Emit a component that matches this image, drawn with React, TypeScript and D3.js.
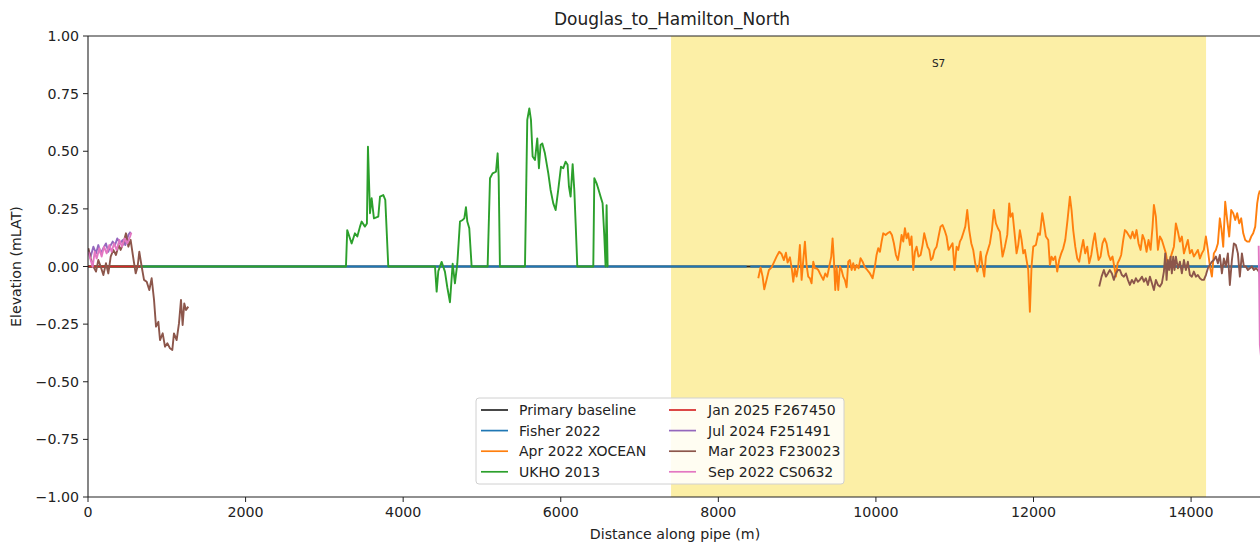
import React from "react";
import * as d3 from "d3";

type Pt = [number, number | null];

const TITLE = "Douglas_to_Hamilton_North";
const X_LABEL = "Distance along pipe (m)";
const Y_LABEL = "Elevation (mLAT)";
const X_TICKS = [0, 2000, 4000, 6000, 8000, 10000, 12000, 14000];
const Y_TICKS = [-1, -0.75, -0.5, -0.25, 0, 0.25, 0.5, 0.75, 1];
const X_DOMAIN: [number, number] = [0, 14900];
const Y_DOMAIN: [number, number] = [-1, 1];

const SPAN_START = 7400;
const SPAN_END = 14190;
const SPAN_LABEL = "S7";
const SPAN_LABEL_Y = 0.88;

const SERIES_NAMES = [
  "Primary baseline",
  "Fisher 2022",
  "Apr 2022 XOCEAN",
  "UKHO 2013",
  "Jan 2025 F267450",
  "Jul 2024 F251491",
  "Mar 2023 F230023",
  "Sep 2022 CS0632",
];
const SERIES_COLORS = [
  "#262626",
  "#1f77b4",
  "#ff7f0e",
  "#2ca02c",
  "#d62728",
  "#9467bd",
  "#8c564b",
  "#e377c2",
];

const primaryBaseline: Pt[] = [
  [0, 0],
  [14900, 0],
];

const fisher2022: Pt[] = [
  [0, 0],
  [8360, 0],
  [8380, null],
  [8405, 0],
  [14900, 0],
];

const apr2022Xocean: Pt[] = [
  [8507, -0.051], [8536, -0.004], [8562, -0.044], [8583, -0.099], [8612, -0.058],
  [8642, -0.015], [8676, -0.004], [8710, 0.021], [8739, 0.043], [8773, 0.064],
  [8803, 0.054], [8832, 0.028], [8858, 0.06], [8879, 0.017], [8909, 0.04],
  [8934, -0.015], [8951, -0.066], [8972, -0.008], [8993, -0.044], [9014, 0.0],
  [9035, 0.093], [9057, -0.058], [9078, 0.028], [9099, 0.108], [9120, 0.007],
  [9141, -0.044], [9162, -0.051], [9183, -0.073], [9205, 0.021], [9226, -0.008],
  [9247, -0.008], [9268, -0.015], [9289, -0.03], [9310, -0.044], [9332, -0.058],
  [9357, -0.03], [9382, -0.044], [9408, 0.0], [9433, 0.043], [9450, 0.122],
  [9467, 0.028], [9484, -0.102], [9501, 0.0], [9522, -0.102], [9543, 0.0],
  [9564, -0.015], [9585, -0.044], [9606, -0.058], [9628, -0.09], [9649, 0.021],
  [9670, 0.028], [9691, -0.015], [9712, 0.014], [9733, -0.015], [9755, 0.007],
  [9780, -0.008], [9805, 0.036], [9831, 0.021], [9860, -0.004], [9890, -0.015],
  [9924, -0.03], [9958, -0.051], [9987, 0.0], [10008, 0.05], [10029, 0.079],
  [10051, 0.064], [10072, 0.108], [10093, 0.144], [10123, 0.137], [10148, 0.144],
  [10178, 0.151], [10203, 0.137], [10228, 0.101], [10254, 0.05], [10279, 0.028],
  [10304, 0.079], [10326, 0.137], [10347, 0.108], [10368, 0.166], [10389, 0.122],
  [10410, 0.144], [10431, 0.093], [10452, 0.13], [10474, -0.015], [10495, 0.064],
  [10516, 0.086], [10541, 0.043], [10567, 0.05], [10592, 0.093], [10613, 0.144],
  [10634, 0.115], [10655, 0.086], [10677, 0.072], [10698, 0.028], [10719, 0.036],
  [10744, 0.072], [10770, 0.086], [10795, 0.13], [10820, 0.173], [10846, 0.18],
  [10871, 0.158], [10897, 0.13], [10922, 0.072], [10947, 0.086], [10973, 0.101],
  [10998, -0.015], [11024, 0.086], [11045, 0.072], [11066, 0.108], [11087, 0.122],
  [11108, 0.144], [11134, 0.173], [11159, 0.245], [11184, 0.158], [11210, 0.101],
  [11235, 0.072], [11260, 0.014], [11286, -0.022], [11311, 0.007], [11328, 0.064],
  [11353, 0.0], [11375, -0.044], [11396, 0.043], [11421, 0.072], [11447, 0.101],
  [11472, 0.158], [11497, 0.245], [11523, 0.187], [11548, 0.166], [11573, 0.151],
  [11607, 0.043], [11637, 0.086], [11667, 0.137], [11692, 0.274], [11709, 0.216],
  [11734, 0.231], [11764, 0.13], [11785, 0.057], [11806, 0.093], [11827, 0.158],
  [11849, 0.115], [11870, 0.057], [11891, 0.072], [11912, 0.028], [11933, -0.015],
  [11954, -0.196], [11975, 0.0], [11997, 0.086], [12030, 0.093], [12060, 0.144],
  [12081, 0.137], [12111, 0.231], [12132, 0.187], [12157, 0.13], [12187, 0.115],
  [12208, 0.007], [12229, 0.043], [12250, 0.028], [12276, 0.043], [12301, -0.022],
  [12326, 0.028], [12352, 0.057], [12377, 0.079], [12403, 0.115], [12432, 0.202],
  [12462, 0.303], [12483, 0.245], [12504, 0.158], [12530, 0.086], [12555, 0.035],
  [12580, 0.021], [12606, 0.072], [12631, 0.115], [12656, 0.057], [12682, 0.086],
  [12707, 0.014], [12733, 0.05], [12758, 0.108], [12779, 0.144], [12800, 0.086],
  [12826, 0.028], [12851, 0.043], [12876, 0.1], [12902, 0.122], [12927, 0.1],
  [12953, 0.05], [12978, 0.028], [13003, 0.043], [13025, 0.0], [13046, -0.044],
  [13067, 0.014], [13088, 0.028], [13113, 0.05], [13139, 0.115], [13160, 0.158],
  [13181, 0.151], [13206, 0.137], [13232, 0.122], [13257, 0.151], [13283, 0.122],
  [13308, 0.158], [13333, 0.1], [13359, 0.072], [13384, 0.137], [13409, 0.115],
  [13435, 0.064], [13460, 0.115], [13486, 0.072], [13511, 0.173], [13528, 0.267],
  [13553, 0.216], [13579, 0.072], [13604, 0.13], [13629, 0.115], [13655, 0.086],
  [13680, 0.057], [13706, 0.0], [13731, 0.028], [13756, 0.057], [13782, 0.086],
  [13807, 0.187], [13833, 0.151], [13858, 0.108], [13883, 0.13], [13909, 0.057],
  [13934, 0.086], [13959, 0.115], [13985, 0.057], [14010, 0.072], [14035, 0.043],
  [14061, 0.057], [14086, 0.072], [14112, 0.035], [14137, 0.057], [14162, 0.072],
  [14188, 0.13], [14213, 0.072], [14239, 0.0], [14264, -0.044], [14289, 0.057],
  [14315, 0.072], [14340, 0.1], [14365, 0.209], [14387, 0.158], [14408, 0.086],
  [14433, 0.281], [14458, 0.202], [14484, 0.13], [14509, 0.245], [14535, 0.231],
  [14560, 0.202], [14585, 0.231], [14611, 0.187], [14636, 0.209], [14662, 0.144],
  [14687, 0.115], [14712, 0.108], [14738, 0.108], [14763, 0.13], [14788, 0.144],
  [14814, 0.173], [14839, 0.274], [14856, 0.31], [14873, 0.33],
];

const ukho2013: Pt[] = [
  [0, 0], [3274, 0], [3290, 0.158], [3346, 0.1], [3388, 0.144], [3418, 0.13],
  [3452, 0.173], [3473, 0.195], [3515, 0.173], [3540, 0.187], [3553, 0.52],
  [3579, 0.231], [3600, 0.296], [3629, 0.209], [3684, 0.216], [3706, 0.303],
  [3748, 0.31], [3773, 0.289], [3811, 0], [4404, 0], [4425, -0.109], [4446, -0.02],
  [4488, 0.02], [4530, -0.022], [4560, -0.09], [4594, -0.155], [4628, 0.012],
  [4657, -0.073], [4687, 0.012], [4721, 0.195], [4755, 0.202], [4776, 0.209],
  [4797, 0.257], [4814, 0.195], [4839, 0.166], [4869, 0], [5072, 0], [5102, 0.383],
  [5135, 0.404], [5178, 0.411], [5199, 0.491], [5212, 0.39], [5228, 0], [5546, 0],
  [5575, 0.636], [5601, 0.686], [5622, 0.636], [5643, 0.477], [5673, 0.462],
  [5702, 0.556], [5723, 0.426], [5744, 0.527], [5766, 0.534], [5799, 0.491],
  [5842, 0.404], [5871, 0.332], [5905, 0.274], [5935, 0.245], [5968, 0.332],
  [6003, 0.433], [6032, 0.426], [6062, 0.455], [6087, 0.441], [6104, 0.347],
  [6125, 0.303], [6151, 0.444], [6172, 0.332], [6189, 0.187], [6210, 0], [6413, 0],
  [6426, 0.383], [6455, 0.361], [6481, 0.332], [6506, 0.303], [6531, 0.274],
  [6553, 0.13], [6569, 0], [6582, 0.266], [6595, 0], [6600, 0],
];

const jan2025: Pt[] = [
  [0, 0],
  [660, 0],
];

const jul2024: Pt[] = [
  [4, 0.072], [34, 0.043], [68, 0.086], [102, 0.057], [131, 0.093], [161, 0.057],
  [195, 0.079], [228, 0.1], [258, 0.064], [279, 0.086], [313, 0.108], [343, 0.093],
  [372, 0.122], [406, 0.1], [440, 0.115], [474, 0.093], [512, 0.137], [541, 0.151],
];

const mar2023: Pt[] = [
  [4, 0.079], [34, 0.036], [68, 0.0], [102, -0.022], [131, 0.028], [161, 0.0],
  [195, -0.037], [228, 0.014], [258, -0.03], [288, 0.043], [322, 0.072], [355, 0.05],
  [389, 0.093], [414, 0.072], [448, 0.101], [482, 0.144], [512, 0.086], [541, 0.115],
  [575, 0.036], [605, -0.03], [630, 0.0], [651, 0.064], [681, 0.0], [711, -0.058],
  [745, -0.066], [778, -0.102], [808, -0.051], [838, -0.145], [863, -0.261],
  [893, -0.24], [914, -0.319], [948, -0.29], [977, -0.348], [1007, -0.333],
  [1041, -0.355], [1070, -0.362], [1091, -0.29], [1125, -0.319], [1155, -0.246],
  [1180, -0.145], [1201, -0.254], [1222, -0.16], [1244, -0.189], [1273, -0.174],
  [1290, null],
  [12834, -0.087], [12864, -0.044], [12893, -0.015], [12919, -0.044], [12944, -0.03],
  [12969, -0.015], [12995, -0.03], [13020, -0.058], [13046, -0.03], [13071, -0.015],
  [13096, -0.015], [13122, -0.037], [13147, -0.044], [13173, -0.03], [13198, -0.058],
  [13223, -0.08], [13249, -0.058], [13274, -0.073], [13299, -0.051], [13325, -0.066],
  [13350, -0.058], [13376, -0.044], [13401, -0.066], [13426, -0.051], [13452, -0.08],
  [13477, -0.044], [13503, -0.073], [13528, -0.102], [13553, -0.058], [13579, -0.08],
  [13604, -0.087], [13629, -0.073], [13655, -0.022], [13672, 0.057], [13689, -0.058],
  [13706, 0.028], [13722, -0.015], [13739, 0.043], [13756, -0.03], [13773, 0.043],
  [13790, -0.015], [13807, 0.043], [13833, -0.008], [13858, 0.021], [13883, -0.03],
  [13909, 0.028], [13934, -0.015], [13959, 0.021], [13985, -0.037], [14010, -0.044],
  [14035, -0.022], [14061, -0.044], [14086, -0.037], [14112, -0.051], [14137, -0.058],
  [14162, -0.058], [14188, -0.037], [14213, -0.008], [14239, 0.007], [14264, 0.021],
  [14289, 0.028], [14315, 0.043], [14340, 0.014], [14365, 0.05], [14391, -0.03],
  [14416, 0.035], [14441, 0.0], [14467, 0.057], [14492, -0.08], [14518, 0.028],
  [14543, 0.1], [14568, 0.093], [14594, 0.057], [14619, -0.044], [14645, 0.057],
  [14670, 0.0], [14695, 0.0], [14721, -0.015], [14746, -0.008], [14771, 0.0],
  [14797, -0.015], [14822, -0.008], [14847, -0.015], [14873, -0.03],
];

const sep2022: Pt[] = [
  [4, 0.064], [34, 0.028], [59, -0.001], [85, 0.064], [110, 0.035], [144, 0.079],
  [173, 0.043], [203, 0.086], [237, 0.057], [271, 0.093], [300, 0.064], [330, 0.1],
  [364, 0.072], [398, 0.115], [431, 0.086], [465, 0.122], [499, 0.1], [533, 0.129],
  [550, 0.147],
  [600, null],
  [14858, 0.09], [14866, -0.12], [14873, -0.34], [14890, -0.4],
];

const SERIES_DATA: Pt[][] = [
  primaryBaseline,
  fisher2022,
  apr2022Xocean,
  ukho2013,
  jan2025,
  jul2024,
  mar2023,
  sep2022,
];

const FONT = "'DejaVu Sans', sans-serif";
const TEXT = "#222";

export default function App() {
  const W = 1260;
  const H = 544;
  const left = 88;
  const right = 1262;
  const top = 36;
  const bottom = 497;

  const x = d3.scaleLinear().domain(X_DOMAIN).range([left, right]);
  const y = d3.scaleLinear().domain(Y_DOMAIN).range([bottom, top]);
  const fmtY = d3.format(".2f");

  const line = d3
    .line<Pt>()
    .defined((d) => d[1] !== null)
    .x((d) => x(d[0]))
    .y((d) => y(d[1] as number));

  const legendX = 476;
  const legendY = 398;
  const legendW = 368;
  const legendH = 86;
  const rowH = 20.6;
  const rows = 4;

  return (
    <svg
      width={W}
      height={H}
      style={{ position: "absolute", left: 0, top: 0, display: "block", background: "#fff" }}
      fontFamily={FONT}
    >
      <defs>
        <clipPath id="plotClip">
          <rect x={left} y={top} width={right - left} height={bottom - top} />
        </clipPath>
      </defs>
      <rect x={0} y={0} width={W} height={H} fill="#fff" />

      <rect
        x={x(SPAN_START)}
        y={top}
        width={x(SPAN_END) - x(SPAN_START)}
        height={bottom - top}
        fill="#fcefa6"
      />
      <text
        x={x((SPAN_START + SPAN_END) / 2)}
        y={y(SPAN_LABEL_Y)}
        textAnchor="middle"
        dominantBaseline="middle"
        fontSize={10.5}
        fill={TEXT}
      >
        {SPAN_LABEL}
      </text>

      <g clipPath="url(#plotClip)">
        {SERIES_DATA.map((s, i) => (
          <path
            key={SERIES_NAMES[i]}
            d={line(s) || ""}
            fill="none"
            stroke={SERIES_COLORS[i]}
            strokeWidth={1.9}
            strokeLinejoin="round"
          />
        ))}
      </g>

      <g stroke="#222" strokeWidth={1.1} fill="none">
        <line x1={left} x2={left} y1={top} y2={bottom} />
        <line x1={left} x2={right} y1={top} y2={top} />
        <line x1={left} x2={right} y1={bottom} y2={bottom} />
        <line x1={right} x2={right} y1={top} y2={bottom} />
      </g>

      {X_TICKS.map((t) => (
        <g key={"x" + t}>
          <line x1={x(t)} x2={x(t)} y1={bottom} y2={bottom + 5} stroke="#222" strokeWidth={1} />
          <text x={x(t)} y={bottom + 20} textAnchor="middle" fontSize={14.2} fill={TEXT}>
            {String(t)}
          </text>
        </g>
      ))}

      {Y_TICKS.map((t) => (
        <g key={"y" + t}>
          <line x1={left - 5} x2={left} y1={y(t)} y2={y(t)} stroke="#222" strokeWidth={1} />
          <text
            x={left - 9}
            y={y(t)}
            textAnchor="end"
            dominantBaseline="central"
            fontSize={14.2}
            fill={TEXT}
          >
            {fmtY(t)}
          </text>
        </g>
      ))}

      <text x={672} y={25} textAnchor="middle" fontSize={17} fill={TEXT}>
        {TITLE}
      </text>
      <text x={675} y={539} textAnchor="middle" fontSize={14.2} fill={TEXT}>
        {X_LABEL}
      </text>
      <text
        transform={`translate(21, ${(top + bottom) / 2}) rotate(-90)`}
        textAnchor="middle"
        fontSize={14.2}
        fill={TEXT}
      >
        {Y_LABEL}
      </text>

      <rect
        x={legendX}
        y={legendY}
        width={legendW}
        height={legendH}
        rx={3}
        fill="#fff"
        fillOpacity={0.85}
        stroke="#d0d0d0"
        strokeWidth={1}
      />
      {SERIES_NAMES.map((name, i) => {
        const col = Math.floor(i / rows);
        const row = i % rows;
        const hx = col === 0 ? 481 : 669;
        const tx = col === 0 ? 519 : 708;
        const cy = legendY + 12 + row * rowH;
        return (
          <g key={"lg" + name}>
            <line
              x1={hx}
              x2={hx + 27}
              y1={cy}
              y2={cy}
              stroke={SERIES_COLORS[i]}
              strokeWidth={1.7}
            />
            <text x={tx} y={cy} dominantBaseline="central" fontSize={14} fill={TEXT}>
              {name}
            </text>
          </g>
        );
      })}
    </svg>
  );
}
